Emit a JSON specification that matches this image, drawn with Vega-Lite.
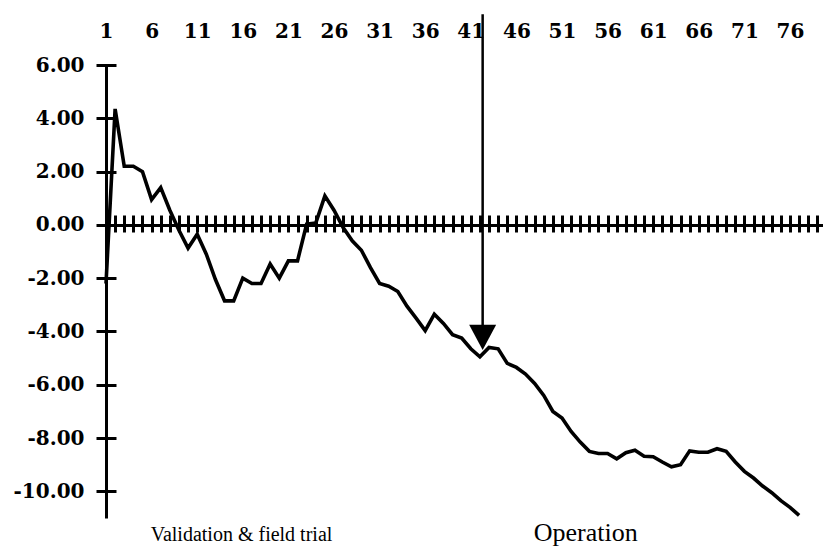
{
  "$schema": "https://vega.github.io/schema/vega-lite/v6.json",
  "width": 717,
  "height": 453,
  "autosize": {"type": "none"},
  "padding": {"left": 106, "top": 65, "right": 0, "bottom": 31},
  "background": "white",
  "config": {"view": {"stroke": null}, "axis": {"grid": false}},
  "data": {"values": [
    {"t":1,"v":-2.2},{"t":2,"v":4.35},{"t":3,"v":2.2},{"t":4,"v":2.2},{"t":5,"v":2.0},
    {"t":6,"v":0.95},{"t":7,"v":1.4},{"t":8,"v":0.55},{"t":9,"v":-0.2},{"t":10,"v":-0.87},
    {"t":11,"v":-0.35},{"t":12,"v":-1.1},{"t":13,"v":-2.05},{"t":14,"v":-2.85},{"t":15,"v":-2.85},
    {"t":16,"v":-2.0},{"t":17,"v":-2.2},{"t":18,"v":-2.2},{"t":19,"v":-1.47},{"t":20,"v":-2.0},
    {"t":21,"v":-1.35},{"t":22,"v":-1.35},{"t":23,"v":0.03},{"t":24,"v":0.07},{"t":25,"v":1.09},
    {"t":26,"v":0.55},{"t":27,"v":-0.1},{"t":28,"v":-0.6},{"t":29,"v":-0.95},{"t":30,"v":-1.6},
    {"t":31,"v":-2.2},{"t":32,"v":-2.3},{"t":33,"v":-2.5},{"t":34,"v":-3.05},{"t":35,"v":-3.5},
    {"t":36,"v":-3.97},{"t":37,"v":-3.35},{"t":38,"v":-3.7},{"t":39,"v":-4.12},{"t":40,"v":-4.25},
    {"t":41,"v":-4.65},{"t":42,"v":-4.95},{"t":43,"v":-4.6},{"t":44,"v":-4.65},{"t":45,"v":-5.2},
    {"t":46,"v":-5.35},{"t":47,"v":-5.6},{"t":48,"v":-5.95},{"t":49,"v":-6.4},{"t":50,"v":-7.0},
    {"t":51,"v":-7.25},{"t":52,"v":-7.75},{"t":53,"v":-8.15},{"t":54,"v":-8.5},{"t":55,"v":-8.58},
    {"t":56,"v":-8.58},{"t":57,"v":-8.78},{"t":58,"v":-8.55},{"t":59,"v":-8.46},{"t":60,"v":-8.68},
    {"t":61,"v":-8.7},{"t":62,"v":-8.9},{"t":63,"v":-9.08},{"t":64,"v":-9.0},{"t":65,"v":-8.48},
    {"t":66,"v":-8.53},{"t":67,"v":-8.53},{"t":68,"v":-8.4},{"t":69,"v":-8.5},{"t":70,"v":-8.9},
    {"t":71,"v":-9.25},{"t":72,"v":-9.5},{"t":73,"v":-9.8},{"t":74,"v":-10.05},{"t":75,"v":-10.35},
    {"t":76,"v":-10.6},{"t":77,"v":-10.9}
  ]},
  "resolve": {"axis": {"x": "independent", "y": "independent"}},
  "layer": [
    {
      "mark": {"type": "line", "color": "black", "strokeWidth": 3.6},
      "encoding": {
        "x": {"field": "t", "type": "quantitative",
          "scale": {"domain": [1, 79.62], "nice": false, "zero": false},
          "axis": {"orient": "top", "values": [1,6,11,16,21,26,31,36,41,46,51,56,61,66,71,76],
            "domain": false, "ticks": false, "tickSize": 0, "labelPadding": 28, "labelBaseline": "alphabetic",
            "labelFont": "DejaVu Serif", "labelFontSize": 20, "labelFontWeight": "bold", "labelColor": "black",
            "labelFlush": false, "labelOverlap": false, "labelBound": false, "title": null}},
        "y": {"field": "v", "type": "quantitative",
          "scale": {"domain": [-11, 6], "nice": false, "zero": false},
          "axis": {"orient": "left", "domain": true, "domainColor": "black", "domainWidth": 3,
            "ticks": false, "labels": false, "title": null}}
      }
    },
    {
      "data": {"values": [{}]},
      "mark": {"type": "rule", "color": "black", "strokeWidth": 2.5},
      "encoding": {
        "x": {"datum": 42.3, "type": "quantitative",
          "axis": {"orient": "bottom", "offset": -293, "domain": true, "domainColor": "black", "domainWidth": 3.2,
            "ticks": false, "labels": false, "title": null}},
        "y": {"datum": 7.9, "type": "quantitative",
          "axis": {"orient": "left", "offset": -10, "domain": false, "ticks": true, "tickSize": 20,
            "tickWidth": 3, "tickColor": "black", "values": [-10,-8,-6,-4,-2,0,2,4,6],
            "labelExpr": "replace(format(datum.value, '.2f'), '\u2212', '-')",
            "labelPadding": 12, "labelFont": "DejaVu Serif", "labelFontSize": 20, "labelFontWeight": "bold",
            "labelColor": "black", "labelFlush": false, "labelOverlap": false, "labelBound": false, "title": null}},
        "y2": {"datum": -4.3}
      }
    },
    {
      "data": {"values": [{}]},
      "mark": {"type": "point", "filled": true, "color": "black", "strokeWidth": 0,
        "shape": "M-1,-0.93L1,-0.93L0,0.93Z", "size": 729, "opacity": 1},
      "encoding": {
        "x": {"datum": 42.3, "type": "quantitative",
          "axis": {"orient": "bottom", "offset": -303, "domain": false, "ticks": true, "tickSize": 17,
            "tickWidth": 3, "tickColor": "black", "tickCount": 80, "labels": false, "title": null}},
        "y": {"datum": -4.22, "type": "quantitative", "axis": null}
      }
    },
    {
      "data": {"values": [
        {"label": "Validation & field trial", "t": 15.86, "s": "a"},
        {"label": "Operation", "t": 53.6, "s": "b"}
      ]},
      "mark": {"type": "text", "font": "Liberation Serif", "color": "black",
        "align": "center", "baseline": "alphabetic"},
      "encoding": {
        "x": {"field": "t", "type": "quantitative", "axis": null},
        "y": {"datum": -11.86, "type": "quantitative", "axis": null},
        "size": {"field": "s", "type": "nominal", "scale": {"domain": ["a", "b"], "range": [20, 26]}, "legend": null},
        "text": {"field": "label"}
      }
    }
  ]
}
